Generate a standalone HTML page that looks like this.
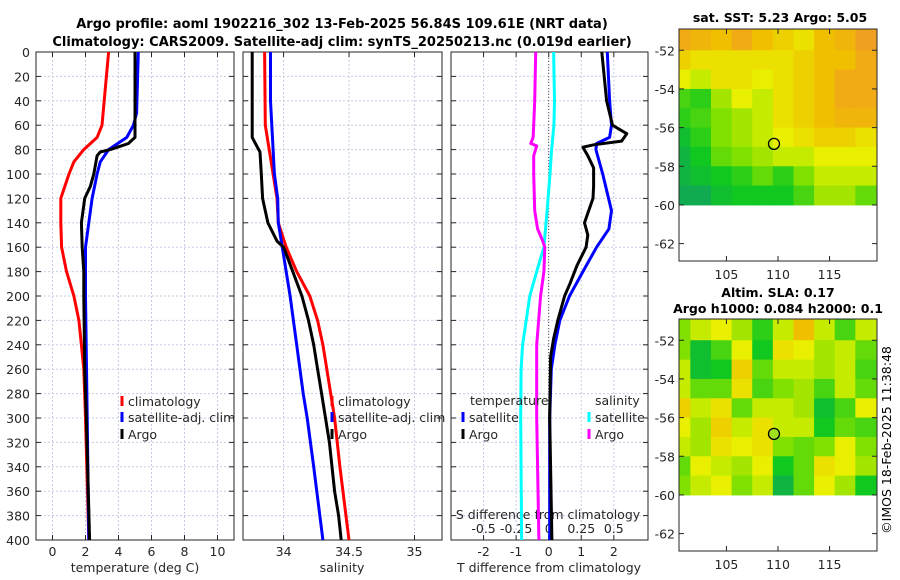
<!DOCTYPE html>
<html><head><meta charset="utf-8"><style>
html,body{margin:0;padding:0;background:#fff;}
svg{display:block;font-family:"DejaVu Sans","Liberation Sans",sans-serif;}
</style></head><body>
<svg id="c" width="900" height="580" viewBox="0 0 900 580" xmlns="http://www.w3.org/2000/svg">
<text x="342" y="28" font-size="13" font-weight="bold" text-anchor="middle">Argo profile: aoml 1902216_302 13-Feb-2025 56.84S 109.61E (NRT data)</text>
<text x="342" y="46" font-size="13" font-weight="bold" text-anchor="middle">Climatology: CARS2009. Satellite-adj clim: synTS_20250213.nc (0.019d earlier)</text>
<text x="780" y="22" font-size="12.5" font-weight="bold" text-anchor="middle">sat. SST: 5.23 Argo: 5.05</text>
<text x="778" y="297" font-size="12.5" font-weight="bold" text-anchor="middle">Altim. SLA: 0.17</text>
<text x="778" y="313" font-size="12.5" font-weight="bold" text-anchor="middle">Argo h1000: 0.084 h2000: 0.1</text>
<text transform="translate(891,440) rotate(-90)" font-size="12.5" text-anchor="middle">©IMOS 18-Feb-2025 11:38:48</text>
</svg>
<script>
// ---- profile data ----
const depthRed=[0,60,70,80,90,100,120,140,160,180,200,220,240,260,300,400];
const tempClim=[3.4,3.0,2.7,1.9,1.3,1.0,0.5,0.5,0.55,0.85,1.3,1.6,1.75,1.9,2.0,2.2];
const depthBlue=[0,50,60,70,80,90,100,120,140,160,200,300,400];
const tempSat=[5.2,5.1,4.9,4.5,3.4,2.9,2.7,2.4,2.2,2.0,2.0,2.1,2.2];
const depthArgoT=[0,70,75,80,82,85,100,110,120,140,160,180,200,260,300,400];
const tempArgo=[5.0,5.0,4.6,3.5,2.9,2.7,2.5,2.3,1.95,1.75,1.8,1.9,1.9,1.95,2.05,2.25];
const depthSalClim=[0,60,80,100,120,140,160,180,200,220,240,260,280,300,340,400];
const salClim=[33.855,33.86,33.89,33.92,33.95,33.96,34.02,34.1,34.2,34.26,34.3,34.33,34.36,34.39,34.43,34.5];
const depthSalSat=[0,40,80,100,120,140,160,200,240,280,300,340,400];
const salSat=[33.9,33.9,33.92,33.93,33.955,33.96,33.99,34.05,34.1,34.15,34.18,34.23,34.3];
const depthSalArgo=[0,70,78,82,100,120,140,155,160,180,200,220,240,260,280,300,320,340,360,380,400];
const salArgo=[33.76,33.76,33.8,33.82,33.83,33.84,33.88,33.95,34.0,34.07,34.14,34.19,34.23,34.26,34.29,34.32,34.35,34.37,34.39,34.42,34.44];
const depthDT=[0,40,60,67,73,76,78,85,95,110,120,130,140,150,160,175,190,200,220,235,250,300,400];
const dTArgo=[1.63,1.78,1.96,2.4,2.24,1.4,1.05,1.2,1.38,1.38,1.36,1.23,1.1,1.2,1.15,0.87,0.65,0.49,0.28,0.15,0.06,0.03,0.1];
const depthDTs=[0,40,60,70,75,80,100,130,145,160,180,200,220,240,260,300,400];
const dTSat=[1.8,1.87,1.93,1.87,1.47,1.45,1.66,1.93,1.85,1.47,1.05,0.64,0.34,0.19,0.08,0.03,0.03];
const depthDS=[0,40,60,80,100,130,160,180,200,240,260,300,400];
const dSSat=[0.038,0.045,0.04,0.022,0.01,-0.012,-0.037,-0.092,-0.145,-0.2,-0.212,-0.215,-0.208];
const depthDSa=[0,40,60,70,75,77,85,100,130,145,155,160,180,200,240,300,400];
const dSArgo=[-0.1,-0.107,-0.115,-0.12,-0.137,-0.092,-0.115,-0.115,-0.107,-0.085,-0.045,-0.03,-0.037,-0.062,-0.092,-0.092,-0.075];
const depthTicks=[0,20,40,60,80,100,120,140,160,180,200,220,240,260,280,300,320,340,360,380,400];
const tTicks=[0,2,4,6,8,10];
const sTicks=[34,34.5,35];
const dTTicks=[-2,-1,0,1,2];
const dSTicks=[-0.5,-0.25,0,0.25,0.5];
const dSTickLabels=["-0.5","-0.25","0","0.25","0.5"];
// ---- map data (rows lat -51..-59, cols lon 100.5..118.5 step 2), 0=green 1=orange ----
const mapLats=[-51,-52,-53,-54,-55,-56,-57,-58,-59];
const mapLons=[100.5,102.5,104.5,106.5,108.5,110.5,112.5,114.5,116.5,118.5];
const sstGrid=[
[0.8,0.75,0.7,0.8,0.7,0.65,0.6,0.7,0.75,0.85],
[0.65,0.6,0.6,0.6,0.6,0.6,0.65,0.7,0.7,0.8],
[0.55,0.5,0.6,0.6,0.55,0.6,0.65,0.7,0.8,0.8],
[0.3,0.25,0.45,0.55,0.5,0.6,0.65,0.7,0.8,0.8],
[0.25,0.3,0.4,0.45,0.5,0.6,0.65,0.7,0.75,0.75],
[0.15,0.25,0.4,0.45,0.5,0.55,0.6,0.65,0.65,0.6],
[0.1,0.2,0.35,0.4,0.45,0.5,0.5,0.55,0.55,0.55],
[0.1,0.15,0.2,0.25,0.35,0.25,0.4,0.5,0.5,0.5],
[0.05,0.05,0.15,0.2,0.2,0.2,0.3,0.45,0.45,0.35]];
const slaGrid=[
[0.4,0.5,0.55,0.45,0.25,0.5,0.7,0.5,0.3,0.5],
[0.4,0.15,0.3,0.55,0.2,0.6,0.55,0.45,0.5,0.35],
[0.5,0.15,0.2,0.65,0.35,0.5,0.5,0.45,0.5,0.3],
[0.5,0.35,0.35,0.6,0.3,0.4,0.45,0.3,0.5,0.35],
[0.65,0.5,0.6,0.35,0.5,0.5,0.45,0.15,0.3,0.55],
[0.55,0.45,0.65,0.5,0.6,0.5,0.5,0.2,0.35,0.3],
[0.5,0.45,0.6,0.55,0.6,0.4,0.35,0.4,0.55,0.4],
[0.35,0.55,0.5,0.45,0.55,0.2,0.35,0.6,0.55,0.45],
[0.4,0.5,0.55,0.4,0.5,0.1,0.35,0.55,0.45,0.2]];
const lonTicks=[105,110,115];
const latTicks=[-52,-54,-56,-58,-60,-62];
const argoLon=109.61, argoLat=-56.84;

const NS="http://www.w3.org/2000/svg";
const svg=document.getElementById('c');
function el(tag,attrs,parent){const e=document.createElementNS(NS,tag);for(const k in attrs)e.setAttribute(k,attrs[k]);(parent||svg).appendChild(e);return e;}
function txt(x,y,s,size,anchor,parent){const t=el('text',{x:x,y:y,'font-size':size,'text-anchor':anchor||'middle',fill:'#262626'},parent);t.textContent=s;return t;}
const PT=52,PB=540;
function yD(d){return PT+(PB-PT)*d/400;}
function mkX(x0,x1,v0,v1){return v=>x0+(x1-x0)*(v-v0)/(v1-v0);}
const xT=mkX(36,234,-1,11), xS=mkX(243,442,33.69,35.21), xDT=mkX(451,648,-3,3.05);
const xDS=v=>xDT(v*4);

function panel(name,x0,x1,xt,ticks,labels){
  const g=el('g',{});
  
  
  ticks.forEach(t=>el('line',{x1:xt(t),x2:xt(t),y1:PT,y2:PB,stroke:'#c6cbe6','stroke-width':1,'stroke-dasharray':'2,2'},g));
  depthTicks.forEach(d=>{el('line',{x1:x0,x2:x1,y1:yD(d),y2:yD(d),stroke:'#c6cbe6','stroke-width':1,'stroke-dasharray':'2,2'},g);
    el('line',{x1:x0,x2:x0+5,y1:yD(d),y2:yD(d),stroke:'#262626'},g);el('line',{x1:x1-5,x2:x1,y1:yD(d),y2:yD(d),stroke:'#262626'},g);});
  ticks.forEach((t,i)=>{el('line',{x1:xt(t),x2:xt(t),y1:PB,y2:PB-5,stroke:'#262626'},g);el('line',{x1:xt(t),x2:xt(t),y1:PT,y2:PT+5,stroke:'#262626'},g);
    if(labels) txt(xt(t),556,labels[i],12.5,'middle',g);});
  el('rect',{x:x0,y:PT,width:x1-x0,height:PB-PT,fill:'none',stroke:'#262626','stroke-width':1},g);
  return g;
}
function line(name,xs,ds,xf,color,w){
  const pts=xs.map((v,i)=>xf(v).toFixed(1)+','+yD(ds[i]).toFixed(1)).join(' ');
  const p=el('polyline',{points:pts,fill:'none',stroke:color,'stroke-width':w||3,'stroke-linejoin':'round'});
  
  
}
function legend(name,x,y,color,label){
  const g=el('g',{});
  
  
  el('line',{x1:x,x2:x,y1:y-10,y2:y,stroke:color,'stroke-width':3},g);
  txt(x+6,y,label,12.5,'start',g);
}
// panel 1
panel('temperature-panel',36,234,xT,tTicks,tTicks.map(String));
depthTicks.forEach(d=>txt(30,yD(d)+5,String(d),12.5,'end'));
txt(135,572,'temperature (deg C)',12.5);
line('temp-climatology-line',tempClim,depthRed,xT,'#ff0000');
line('temp-satellite-line',tempSat,depthBlue,xT,'#0000ff');
line('temp-argo-line',tempArgo,depthArgoT,xT,'#000000');
legend('legend-climatology',122,406,'#ff0000','climatology');
legend('legend-satellite-adj',122,422,'#0000ff','satellite-adj. clim');
legend('legend-argo',122,439,'#000000','Argo');
// panel 2
panel('salinity-panel',243,442,xS,sTicks,['34','34.5','35']);
txt(342,572,'salinity',12.5);
line('sal-climatology-line',salClim,depthSalClim,xS,'#ff0000');
line('sal-satellite-line',salSat,depthSalSat,xS,'#0000ff');
line('sal-argo-line',salArgo,depthSalArgo,xS,'#000000');
legend('legend-sal-climatology',332,406,'#ff0000','climatology');
legend('legend-sal-satellite-adj',332,422,'#0000ff','satellite-adj. clim');
legend('legend-sal-argo',332,439,'#000000','Argo');
// panel 3
panel('difference-panel',451,648,xDT,dTTicks,dTTicks.map(String));
el('line',{x1:xDT(0),x2:xDT(0),y1:PT,y2:PB,stroke:'#555','stroke-width':1,'stroke-dasharray':'1,2'});
txt(549,572,'T difference from climatology',12.5);
txt(548,519,'S difference from climatology',12.5);
dSTicks.forEach((v,i)=>txt(xDS(v),533,dSTickLabels[i],12.5));
line('dS-satellite-line',dSSat,depthDS,xDS,'#00ffff');
line('dS-argo-line',dSArgo,depthDSa,xDS,'#ff00ff');
line('dT-satellite-line',dTSat,depthDTs,xDT,'#0000ff');
line('dT-argo-line',dTArgo,depthDT,xDT,'#000000');
txt(470,405,'temperature',12.5,'start');
txt(595,405,'salinity',12.5,'start');
legend('legend-dT-satellite',463,422,'#0000ff','satellite');
legend('legend-dT-argo',463,439,'#000000','Argo');
legend('legend-dS-satellite',589,422,'#00ffff','satellite');
legend('legend-dS-argo',589,439,'#ff00ff','Argo');

// maps
const stops=[[0,[16,160,96]],[0.2,[16,200,32]],[0.4,[128,224,0]],[0.55,[232,240,0]],[0.7,[240,192,0]],[0.85,[240,160,32]],[1,[235,140,30]]];
function cmap(v){for(let i=1;i<stops.length;i++){if(v<=stops[i][0]){const a=stops[i-1],b=stops[i],t=(v-a[0])/(b[0]-a[0]);return 'rgb('+a[1].map((c,k)=>Math.round(c+(b[1][k]-c)*t)).join(',')+')';}}return 'rgb(235,140,30)';}
function map(name,top,bottom,grid,dotFill){
  const X0=679,X1=877;
  const lx=mkX(X0,X1,100.4,119.6);
  const ly=v=>top+(bottom-top)*(-50.9-v)/(-50.9+62.9);
  const g=el('g',{});
  
  
  mapLats.forEach((la,r)=>mapLons.forEach((lo,c)=>{
    const xa=Math.max(X0,lx(lo-1)),xb=Math.min(X1,lx(lo+1));
    const ya=r===0?top:ly(la),yb=ly(la-1);
    const rc=el('rect',{x:xa,y:ya,width:xb-xa+0.5,height:yb-ya+0.5,fill:cmap(grid[r][c])},g);
    
    
  }));
  el('rect',{x:X0,y:top,width:X1-X0,height:bottom-top,fill:'none',stroke:'#262626'},g);
  lonTicks.forEach(t=>{el('line',{x1:lx(t),x2:lx(t),y1:bottom,y2:bottom-5,stroke:'#262626'},g);el('line',{x1:lx(t),x2:lx(t),y1:top,y2:top+5,stroke:'#262626'},g);txt(lx(t),bottom+18,String(t),12.5,'middle',g);});
  latTicks.forEach(t=>{el('line',{x1:X0,x2:X0+5,y1:ly(t),y2:ly(t),stroke:'#262626'},g);el('line',{x1:X1-5,x2:X1,y1:ly(t),y2:ly(t),stroke:'#262626'},g);txt(675,ly(t)+5,String(t),12.5,'end',g);});
  const c=el('circle',{cx:lx(argoLon),cy:ly(argoLat),r:5.5,fill:dotFill,stroke:'#000','stroke-width':1.3},g);
  
  
}
map('sst-map',29,261,sstGrid,'none');
map('sla-map',319,551,slaGrid,'#a0e020');
</script>
</body></html>
